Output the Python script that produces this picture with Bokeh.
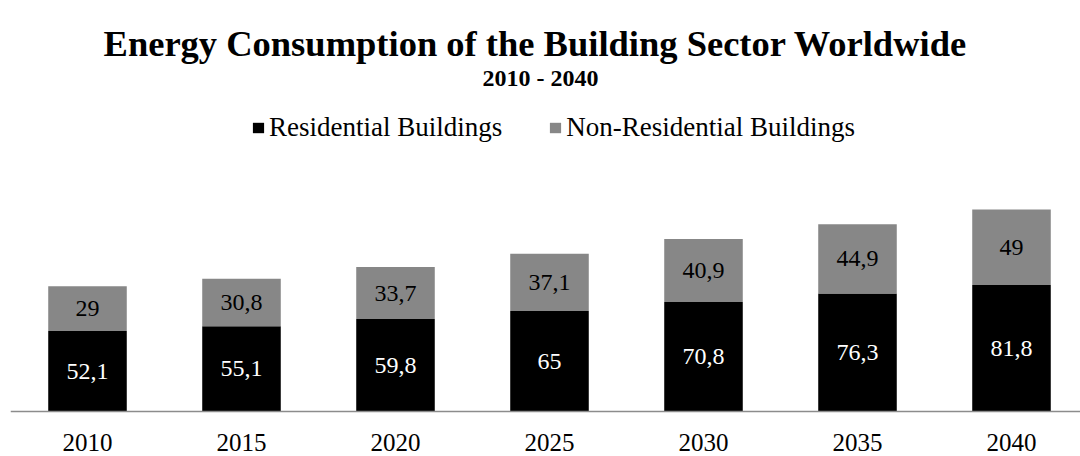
from bokeh.plotting import figure
from bokeh.models import ColumnDataSource, Range1d, Span, Label
from bokeh.core.properties import value
from bokeh.embed import file_html
from bokeh.resources import INLINE

years = ["2010", "2015", "2020", "2025", "2030", "2035", "2040"]
residential = [52.1, 55.1, 59.8, 65, 70.8, 76.3, 81.8]
non_residential = [29, 30.8, 33.7, 37.1, 40.9, 44.9, 49]
series_names = ["Residential Buildings", "Non-Residential Buildings"]
series_colors = ["#000000", "#878787"]
title_text = "Energy Consumption of the Building Sector Worldwide"
subtitle_text = "2010 - 2040"

FONT = "Liberation Serif"
PX_PER_UNIT = 1.545       # vertical scale (pixels per value unit)
SLOT = 154                # pixels per category slot


def fmt(v):
    return f"{v:g}".replace(".", ",")


xs = [i + 0.5 for i in range(len(years))]
source = ColumnDataSource(dict(
    x=xs,
    years=years,
    zero=[0] * len(years),
    residential=residential,
    non_residential=non_residential,
    res_mid=[r / 2 for r in residential],
    non_mid=[r + n / 2 for r, n in zip(residential, non_residential)],
    res_lab=[fmt(v) for v in residential],
    non_lab=[fmt(v) for v in non_residential],
))

W, H = 1080, 456
BASE_Y = 411
LEFT = 10

p = figure(
    width=W, height=H,
    x_range=Range1d(0, (W - LEFT) / SLOT),
    y_range=Range1d(-(H - BASE_Y) / PX_PER_UNIT, BASE_Y / PX_PER_UNIT),
    toolbar_location=None, output_backend="svg",
    min_border_left=LEFT, min_border_right=0, min_border_bottom=0, min_border_top=0,
)

# titles (screen units, measured from the frame's bottom-left corner)
p.add_layout(Label(x=535 - LEFT, y=H - 43, x_units="screen", y_units="screen",
                   text=title_text, text_font=FONT, text_font_size="36.5px",
                   text_font_style="bold", text_color="#000000",
                   text_align="center", text_baseline="alphabetic"))
p.add_layout(Label(x=540 - LEFT, y=H - 77, x_units="screen", y_units="screen",
                   text=subtitle_text, text_font=FONT, text_font_size="24px",
                   text_font_style="bold", text_color="#000000",
                   text_align="center", text_baseline="alphabetic"))

p.vbar_stack(["residential", "non_residential"], x="x", width=0.51,
             color=series_colors, source=source, legend_label=series_names,
             line_width=0)

p.add_layout(Span(location=0, dimension="width", line_color="#8c8c8c", line_width=1.5))

p.text(x="x", y="res_mid", text="res_lab", source=source,
       text_font=value(FONT), text_font_size="24px", text_color="#ffffff",
       text_align="center", text_baseline="middle")
p.text(x="x", y="non_mid", text="non_lab", source=source,
       text_font=value(FONT), text_font_size="24px", text_color="#000000",
       text_align="center", text_baseline="middle")
# category labels under the base line
p.text(x="x", y="zero", text="years", source=source, y_offset=31,
       text_font=value(FONT), text_font_size="25px", text_color="#000000",
       text_align="center", text_baseline="middle")

p.xaxis.visible = False
p.yaxis.visible = False
p.xgrid.visible = False
p.ygrid.visible = False
p.outline_line_color = None

lg = p.legend[0]
lg.location = (241, 313)
lg.orientation = "horizontal"
lg.border_line_color = None
lg.background_fill_alpha = 0
lg.label_text_font = FONT
lg.label_text_font_size = "27px"
lg.label_text_color = "#000000"
lg.glyph_width = 14
lg.glyph_height = 13
lg.label_standoff = 4
lg.spacing = 46
lg.padding = 0
lg.margin = 0

open("out.html", "w").write(file_html(p, INLINE))
